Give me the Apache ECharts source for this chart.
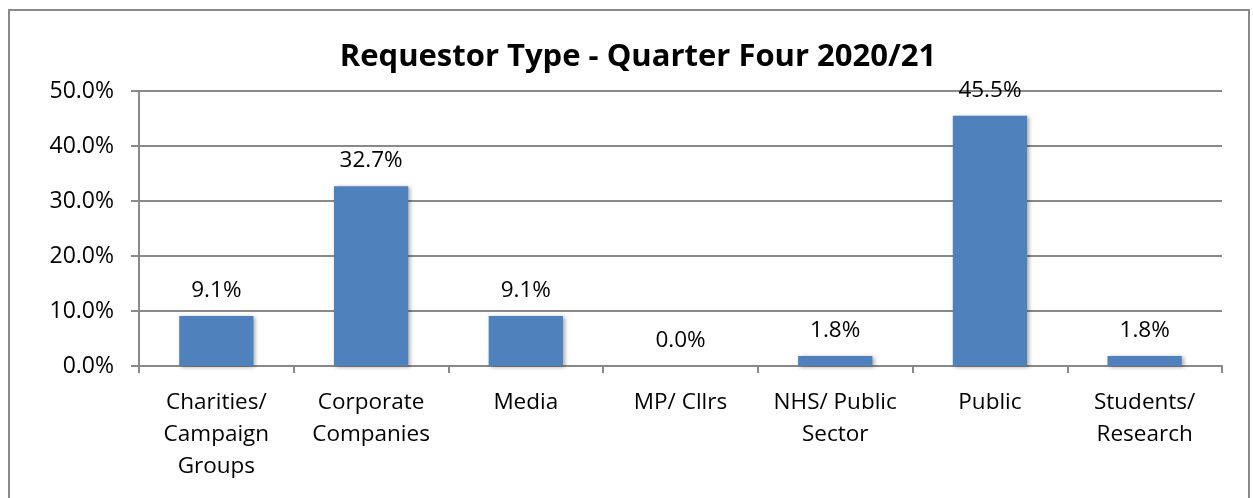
<!DOCTYPE html>
<html>
<head>
<meta charset="utf-8">
<script src="https://cdn.jsdelivr.net/npm/echarts@6/dist/echarts.min.js"></script>
<style>
    html, body {
        margin: 0;
        padding: 0;
        background: #fff;
        overflow: hidden;
    }
    .frame {
        position: absolute;
        left: 8px;
        top: 9px;
        width: 1242px;
        height: 520px;
        border: 2px solid #8a8a8a;
        box-sizing: border-box;
    }
    #chart-container {
        position: absolute;
        left: 0;
        top: 0;
        width: 1253px;
        height: 498px;
    }
</style>
</head>
<body>
<div class="frame"></div>
<div id="chart-container"></div>
<script>
var titleText = "Requestor Type - Quarter Four 2020/21";
var categories = [
    "Charities/\nCampaign\nGroups",
    "Corporate\nCompanies",
    "Media",
    "MP/ Cllrs",
    "NHS/ Public\nSector",
    "Public",
    "Students/\nResearch",
];
var shares = [9.1, 32.7, 9.1, 0.0, 1.8, 45.5, 1.8];
var yTicks = [0, 10, 20, 30, 40, 50];

var chartDom = document.getElementById("chart-container");
var myChart = echarts.init(chartDom, null, { renderer: "canvas" });
var fontName = "Open Sans";
var gray = "#898989";

var option = {
    animation: false,
    backgroundColor: "rgba(255, 255, 255, 0)",
    title: {
        text: titleText,
        left: 633,
        top: 37,
        textAlign: "center",
        textStyle: {
            fontFamily: fontName,
            fontWeight: "bold",
            fontSize: 31,
            color: "#000",
        },
    },
    grid: {
        left: 139,
        right: 31,
        top: 91,
        bottom: 132,
        containLabel: false,
    },
    xAxis: {
        type: "category",
        data: categories,
        axisLine: { lineStyle: { color: gray, width: 2 } },
        axisTick: { show: true, length: 7, lineStyle: { color: gray, width: 2 } },
        axisLabel: {
            margin: 21,
            fontFamily: fontName,
            fontSize: 22.5,
            lineHeight: 32,
            color: "#000",
            interval: 0,
        },
    },
    yAxis: {
        type: "value",
        min: yTicks[0],
        max: yTicks[yTicks.length - 1],
        interval: 10,
        axisLine: { show: true, lineStyle: { color: gray, width: 2 } },
        axisTick: { show: true, length: 8, lineStyle: { color: gray, width: 2 } },
        splitLine: { show: true, lineStyle: { color: gray, width: 2 } },
        axisLabel: {
            margin: 25,
            fontFamily: fontName,
            fontSize: 23,
            color: "#000",
            formatter: function (v) {
                return v.toFixed(1) + "%";
            },
        },
    },
    series: [
        {
            type: "bar",
            data: shares,
            barWidth: "48%",
            itemStyle: {
                color: "#4f81bd",
                shadowColor: "rgba(0, 0, 0, 0.35)",
                shadowBlur: 4,
                shadowOffsetX: 2,
                shadowOffsetY: 1,
            },
            label: {
                show: true,
                position: "top",
                distance: 14,
                fontFamily: fontName,
                fontSize: 22.5,
                color: "#000",
                formatter: function (p) {
                    return p.value.toFixed(1) + "%";
                },
            },
        },
    ],
};
option && myChart.setOption(option, true);
</script>
</body>
</html>
